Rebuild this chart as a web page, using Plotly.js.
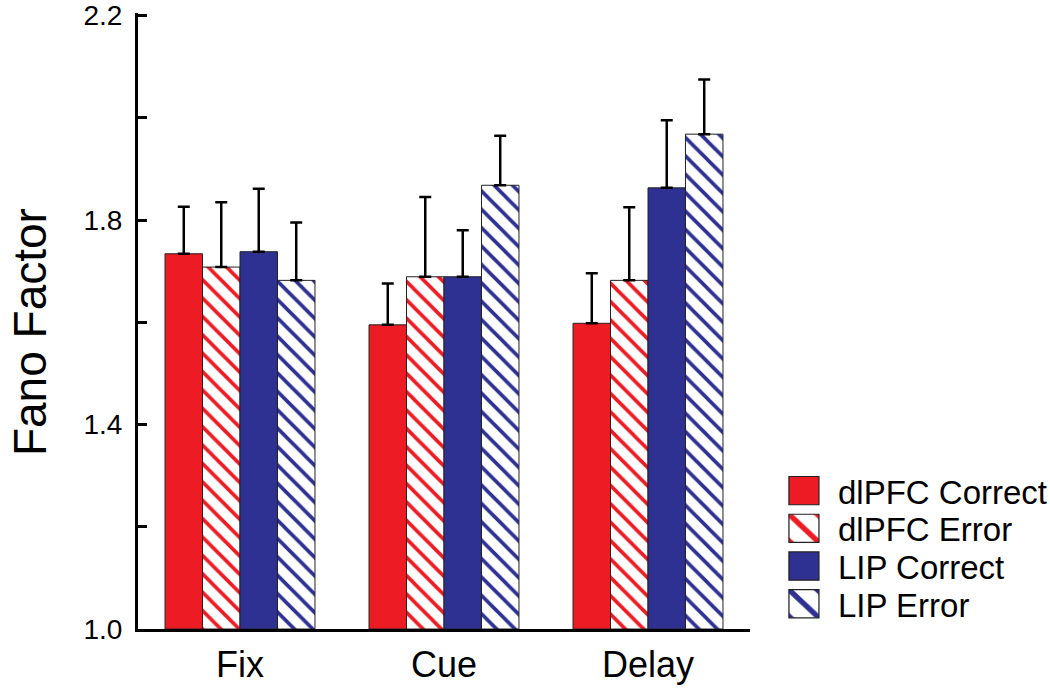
<!DOCTYPE html>
<html>
<head>
<meta charset="utf-8">
<script src="https://cdn.plot.ly/plotly-3.0.1.min.js"></script>
<style>body{margin:0;background:#fff}#chart{width:1050px;height:699px}</style>
</head>
<body>
<div id="chart"></div>
<script>
const categories = ["Fix", "Cue", "Delay"];
const seriesNames = ["dlPFC Correct", "dlPFC Error", "LIP Correct", "LIP Error"];
const dlpfcCorrect = [1.734, 1.595, 1.598];
const dlpfcError   = [1.708, 1.689, 1.682];
const lipCorrect   = [1.738, 1.689, 1.863];
const lipError     = [1.682, 1.868, 1.968];
const dlpfcCorrectErr = [0.092, 0.081, 0.098];
const dlpfcErrorErr   = [0.127, 0.156, 0.143];
const lipCorrectErr   = [0.123, 0.091, 0.132];
const lipErrorErr     = [0.113, 0.097, 0.107];
const yTickVals = [1.0, 1.2, 1.4, 1.6, 1.8, 2.0, 2.2];
const yTickText = ["1.0", "", "1.4", "", "1.8", "", "2.2"];
const yTitle = "Fano Factor";

const RED = "#ED1C24", BLUE = "#2E3192";
const values = [dlpfcCorrect, dlpfcError, lipCorrect, lipError];
const errs = [dlpfcCorrectErr, dlpfcErrorErr, lipCorrectErr, lipErrorErr];
const colors = [RED, RED, BLUE, BLUE];
const hatched = [false, true, false, true];
const BASE = 1.0;

const traces = values.map((v, i) => ({
  type: "bar",
  name: seriesNames[i],
  x: categories,
  y: v.map(d => d - BASE),
  base: BASE,
  legendgroup: "g" + i,
  marker: {
    color: hatched[i] ? "#ffffff" : colors[i],
    line: {color: "#222", width: 1},
    pattern: hatched[i] ? {shape: "\\", fgcolor: colors[i], bgcolor: "#ffffff", size: 13, solidity: 0.28, fillmode: "replace"} : {shape: ""}
  },
  error_y: {type: "data", symmetric: false, array: errs[i], arrayminus: errs[i].map(() => 0), color: "#000", thickness: 2.5, width: 6}
}));

const FONT = "Arial, 'Liberation Sans', sans-serif";
const layout = {
  width: 1050, height: 699,
  margin: {l: 138, r: 300, t: 13, b: 70, autoexpand: false},
  paper_bgcolor: "#fff", plot_bgcolor: "#fff",
  font: {family: FONT, color: "#000"},
  barmode: "group", bargap: 0.265, bargroupgap: 0,
  showlegend: true,
  legend: {x: 1.062, y: 0.27, xanchor: "left", yanchor: "top", font: {family: FONT, size: 33, color: "#000"}, tracegroupgap: 0, itemwidth: 40, bgcolor: "rgba(0,0,0,0)"},
  xaxis: {
    type: "category", range: [-0.5, 2.5], showline: true, linecolor: "#000", linewidth: 3,
    ticks: "", showgrid: false, zeroline: false, tickfont: {family: FONT, size: 36}, ticklabelstandoff: 2
  },
  yaxis: {
    range: [1.0, 2.205], tickvals: yTickVals, ticktext: yTickText, ticks: "inside", ticklen: 9, tickwidth: 3, tickcolor: "#000",
    showline: true, linecolor: "#000", linewidth: 3, showgrid: false, zeroline: false,
    tickfont: {family: FONT, size: 28}, ticklabelstandoff: 7, ticklabeloverflow: "allow"
  },
  annotations: [{
    text: yTitle, xref: "paper", yref: "paper", x: -0.1765, y: 0.482, xanchor: "center", yanchor: "middle",
    textangle: -90, showarrow: false, font: {family: FONT, size: 46, color: "#000"}
  }]
};

Plotly.newPlot("chart", traces, layout, {displayModeBar: false, staticPlot: true}).then(() => {
  document.querySelectorAll(".legend .legendpoints path").forEach(p => {
    p.setAttribute("transform", "translate(16,0) scale(2.5,2.35)");
    p.style.strokeWidth = "0.5px";
  });
  const items = document.querySelectorAll(".legend .traces");
  const first = items.length ? (items[0].getAttribute("transform") || "").match(/translate\(([-\d.]+)[ ,]+([-\d.]+)\)/) : null;
  items.forEach((g, k) => {
    const m = (g.getAttribute("transform") || "").match(/translate\(([-\d.]+)[ ,]+([-\d.]+)\)/);
    if (m && first && k > 0) {
      g.setAttribute("transform", "translate(" + m[1] + "," + (parseFloat(first[2]) + k * 37.7) + ")");
    }
  });
});
</script>
</body>
</html>
